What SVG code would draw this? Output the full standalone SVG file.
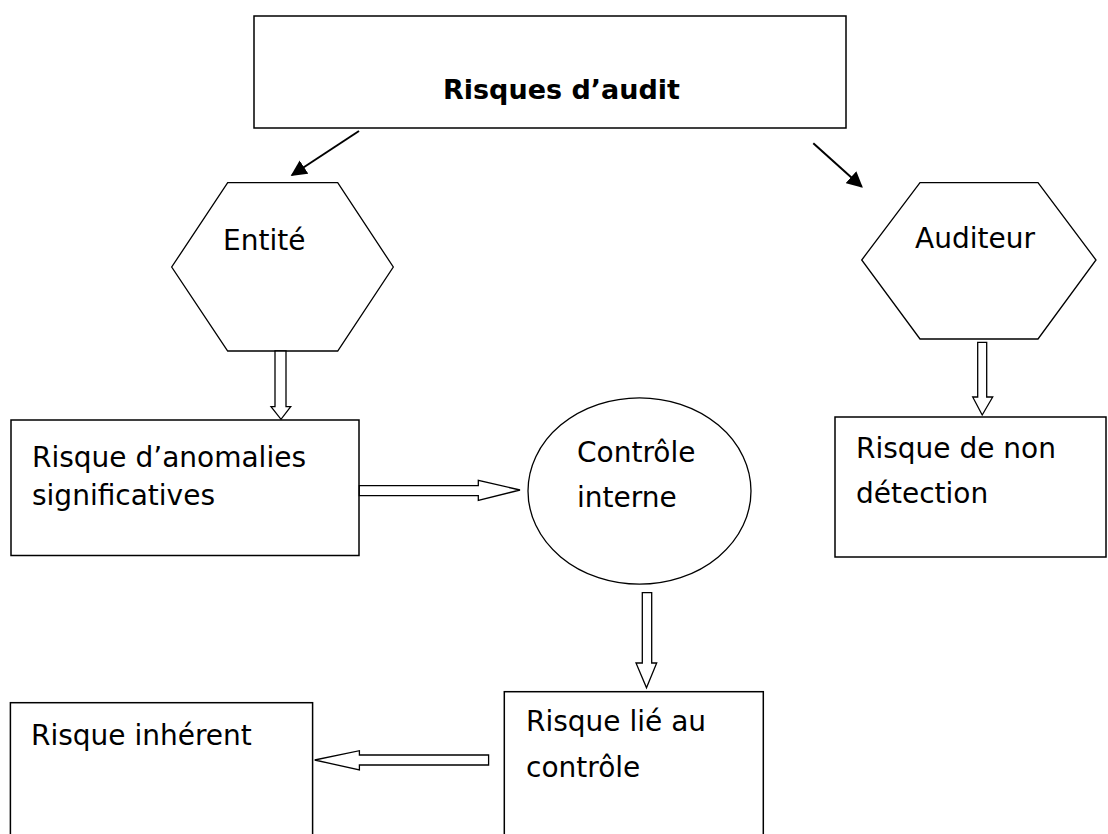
<svg xmlns="http://www.w3.org/2000/svg" width="1108" height="834" viewBox="0 0 1108 834">
<defs>
<style>
.box{fill:#fff;stroke:#000;stroke-width:1.5}
.shape{fill:#fff;stroke:#000;stroke-width:1.3}
.lbl{font-family:"DejaVu Sans","Verdana",sans-serif;font-size:28px;fill:#000}
.title{font-family:"DejaVu Sans","Verdana",sans-serif;font-size:27px;font-weight:bold;fill:#000}
.line{stroke:#000;stroke-width:2;fill:none}
.block{fill:#fff;stroke:#000;stroke-width:1.3;stroke-linejoin:miter}
</style>
<marker id="ah" viewBox="0 0 10 10" refX="9" refY="5" markerWidth="8" markerHeight="8" markerUnits="strokeWidth" orient="auto">
<path d="M0,0 L10,5 L0,10 Z" fill="#000"/>
</marker>
</defs>
<rect width="1108" height="834" fill="#fff"/>

<g id="node-risques-audit">
<rect class="box" x="254" y="16" width="592" height="112" stroke-width="2"/>
<text class="title" x="443" y="99">Risques d’audit</text>
</g>

<g id="node-entite">
<polygon class="shape" points="227.7,182.7 337.7,182.7 393.3,267 337.7,351 227.7,351 171.7,267"/>
<text class="lbl" x="223" y="250">Entité</text>
</g>

<g id="node-auditeur">
<polygon class="shape" points="920,182.7 1038,182.7 1096,260 1038,339 920,339 861.7,260"/>
<text class="lbl" x="915" y="248">Auditeur</text>
</g>

<g id="node-anomalies">
<rect class="box" x="11" y="420" width="348" height="135.5"/>
<text class="lbl" x="32" y="467">Risque d’anomalies</text>
<text class="lbl" x="32" y="505">significatives</text>
</g>

<g id="node-controle-interne">
<ellipse class="shape" cx="639.5" cy="491" rx="111.5" ry="93.2"/>
<text class="lbl" x="577" y="462">Contrôle</text>
<text class="lbl" x="577" y="507">interne</text>
</g>

<g id="node-non-detection">
<rect class="box" x="835" y="417" width="271" height="140"/>
<text class="lbl" x="856" y="458">Risque de non</text>
<text class="lbl" x="856" y="503">détection</text>
</g>

<g id="node-risque-controle">
<rect class="box" x="504.3" y="691.7" width="259" height="160"/>
<text class="lbl" x="526" y="731">Risque lié au</text>
<text class="lbl" x="526" y="777">contrôle</text>
</g>

<g id="node-risque-inherent">
<rect class="box" x="10.4" y="702.7" width="302.2" height="160"/>
<text class="lbl" x="31" y="745">Risque inhérent</text>
</g>

<g id="connectors">
<line class="line" x1="359" y1="131" x2="292" y2="175" marker-end="url(#ah)"/>
<line class="line" x1="813.3" y1="143.3" x2="861.7" y2="186.7" marker-end="url(#ah)"/>
<path class="block" d="M275,351 L286,351 L286,406.7 L290.7,406.7 L281,419.3 L271,406.7 L275,406.7 Z"/>
<path class="block" d="M977.7,342.3 L986.7,342.3 L986.7,397 L992.7,397 L982.2,415 L972.7,397 L977.7,397 Z"/>
<path class="block" d="M359.3,485.7 L478.3,485.7 L478.3,480.3 L520,490 L478.3,500.3 L478.3,495.7 L359.3,495.7 Z"/>
<path class="block" d="M642.3,592.7 L651.7,592.7 L651.7,663 L656.7,663 L646.5,687.7 L636,663 L642.3,663 Z"/>
<path class="block" d="M488.6,755 L359.4,755 L359.4,750.7 L314.7,760 L359.4,770 L359.4,765 L488.6,765 Z"/>
</g>
</svg>
